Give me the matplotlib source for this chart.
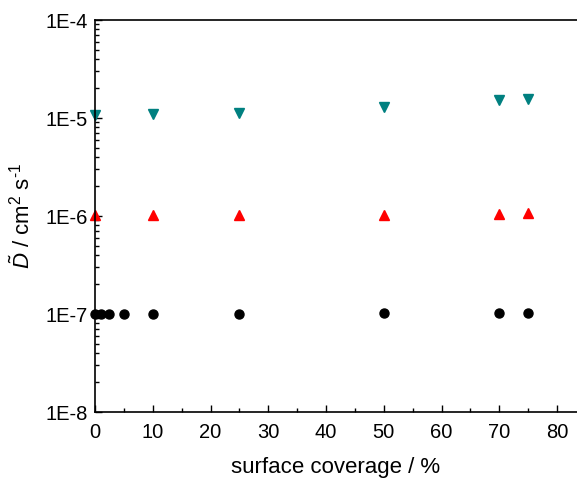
import matplotlib
matplotlib.use("Agg")
import matplotlib.pyplot as plt
from matplotlib.ticker import LogLocator, FixedLocator, NullFormatter, MultipleLocator

plt.rcParams['font.family'] = ['Liberation Sans', 'DejaVu Sans']
plt.rcParams['mathtext.fontset'] = 'custom'
plt.rcParams['mathtext.rm'] = 'Liberation Sans'
plt.rcParams['mathtext.it'] = 'Liberation Sans:italic'

x_black = [0, 1, 2.5, 5, 10, 25, 50, 70, 75]
y_black = [1.0e-7, 1.0e-7, 1.0e-7, 1.0e-7, 1.0e-7, 1.0e-7, 1.02e-7, 1.03e-7, 1.03e-7]
x_red = [0, 10, 25, 50, 70, 75]
y_red = [1.02e-6, 1.02e-6, 1.02e-6, 1.03e-6, 1.05e-6, 1.07e-6]
x_teal = [0, 10, 25, 50, 70, 75]
y_teal = [1.08e-5, 1.1e-5, 1.13e-5, 1.3e-5, 1.53e-5, 1.55e-5]
ytick_vals = [1e-8, 1e-7, 1e-6, 1e-5, 1e-4]
ytick_labels = ['1E-8', '1E-7', '1E-6', '1E-5', '1E-4']

fig = plt.figure(figsize=(5.77, 4.79), dpi=100)
ax = fig.add_axes([95/577, 67/479, 1 - 95/577, 392/479])
ax.set_yscale('log')
ax.plot(x_teal, y_teal, 'v', color='#008080', markersize=7.5, clip_on=False, linestyle='none')
ax.plot(x_red, y_red, '^', color='#ff0000', markersize=7.5, clip_on=False, linestyle='none')
ax.plot(x_black, y_black, 'o', color='black', markersize=6.5, clip_on=False, linestyle='none')

ax.set_xlim(0, 83.45)
ax.set_ylim(1e-8, 1e-4)
ax.xaxis.set_major_locator(MultipleLocator(10))
ax.xaxis.set_minor_locator(MultipleLocator(5))
ax.yaxis.set_major_locator(FixedLocator(ytick_vals))
ax.set_yticklabels(ytick_labels)
ax.yaxis.set_minor_locator(LogLocator(base=10, subs=range(2, 10)))
ax.yaxis.set_minor_formatter(NullFormatter())
ax.tick_params(which='both', direction='in', labelsize=14.5, width=1, top=False, right=False)
ax.tick_params(which='major', length=5)
ax.tick_params(which='minor', length=3)
ax.tick_params(axis='x', which='major', pad=8)
ax.tick_params(axis='y', which='major', pad=5)
ax.spines['right'].set_visible(False)
for s in ['left', 'bottom', 'top']:
    ax.spines[s].set_linewidth(1.2)

ax.set_xlabel('surface coverage / %', fontsize=16, labelpad=11)
ax.set_ylabel(r'$\tilde{D}$ / cm$^2$ s$^{\text{-1}}$', fontsize=16, labelpad=8)

fig.savefig('out.png', dpi=100)
